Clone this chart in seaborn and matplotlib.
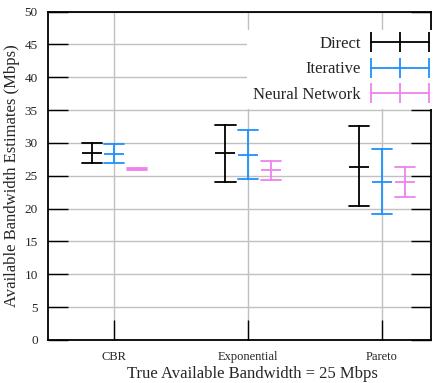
import matplotlib
matplotlib.use("Agg")
import matplotlib.pyplot as plt
from matplotlib.lines import Line2D
from matplotlib.legend_handler import HandlerLine2D
import seaborn as sns
import pandas as pd

categories = ["CBR", "Exponential", "Pareto"]
methods = ["Direct", "Iterative", "Neural Network"]
colors = ["#000000", "#1E90FF", "#EE82EE"]

# estimates (mid) and ranges (low, high) in Mbps
direct_mid = [28.4, 28.4, 26.4]
direct_low = [26.9, 24.0, 20.4]
direct_high = [30.0, 32.8, 32.5]
iter_mid = [28.3, 28.2, 24.1]
iter_low = [27.0, 24.5, 19.2]
iter_high = [29.9, 31.9, 29.1]
nn_mid = [26.0, 25.8, 24.1]
nn_low = [25.8, 24.3, 21.7]
nn_high = [26.2, 27.2, 26.4]

series = {
    "Direct": (direct_low, direct_mid, direct_high),
    "Iterative": (iter_low, iter_mid, iter_high),
    "Neural Network": (nn_low, nn_mid, nn_high),
}
rows = []
for m in methods:
    lo, mi, hi = series[m]
    for i, c in enumerate(categories):
        for v in (lo[i], mi[i], hi[i]):
            rows.append({"traffic": c, "method": m, "value": v})
df = pd.DataFrame(rows)

sns.set_style("white")
plt.rcParams["font.family"] = ["Liberation Serif", "DejaVu Serif"]

fig = plt.figure(figsize=(4.44, 3.83), dpi=100)
ax = fig.add_axes([47.5 / 444, 1 - 340 / 383, (431 - 47.5) / 444, (340 - 11.5) / 383])

sns.pointplot(
    data=df, x="traffic", y="value", hue="method", order=categories,
    hue_order=methods, palette=colors, estimator="median",
    errorbar=lambda x: (x.min(), x.max()), dodge=0.34, capsize=0.15,
    markers="_", linestyles="none", legend=False, ax=ax,
    err_kws={"linewidth": 1.3}, markersize=14.4, markeredgewidth=1.3,
)

ax.set_xlim(-0.5, 2.366)
ax.set_ylim(0, 50)
ax.set_yticks(range(0, 51, 5))
ax.grid(True, color="#c0c0c0", linewidth=1.0)
ax.set_axisbelow(True)
for s in ax.spines.values():
    s.set_color("black")
    s.set_linewidth(1.3)
ax.tick_params(axis="y", direction="in", length=14.4, width=1.0, left=True,
               right=True, labelsize=9.5, pad=7, color="black")
ax.tick_params(axis="x", direction="in", length=14.4, width=1.0, bottom=True,
               top=False, labelsize=9, pad=8, color="black")
ax.set_xlabel("True Available Bandwidth = 25 Mbps", fontsize=12)
ax.xaxis.set_label_coords(0.535, -0.078)
ax.set_ylabel("Available Bandwidth Estimates (Mbps)", fontsize=12, labelpad=3)

handles = [Line2D([], [], color=c, linewidth=1.3, marker="|", markersize=14.4,
                  markeredgewidth=1.3) for c in colors]
leg = ax.legend(handles, methods, loc="upper right",
                bbox_to_anchor=(1.0 + 5 / 384, 0.945),
                fontsize=12, markerfirst=False, numpoints=3, handlelength=3.5,
                labelspacing=0.55, borderaxespad=0, borderpad=0.4,
                handletextpad=0.6,
                frameon=True, fancybox=False, framealpha=1,
                handler_map={Line2D: HandlerLine2D(marker_pad=0, numpoints=3)})
leg.get_frame().set_edgecolor("none")
leg.get_frame().set_facecolor("white")

fig.savefig("out.png", dpi=100)
